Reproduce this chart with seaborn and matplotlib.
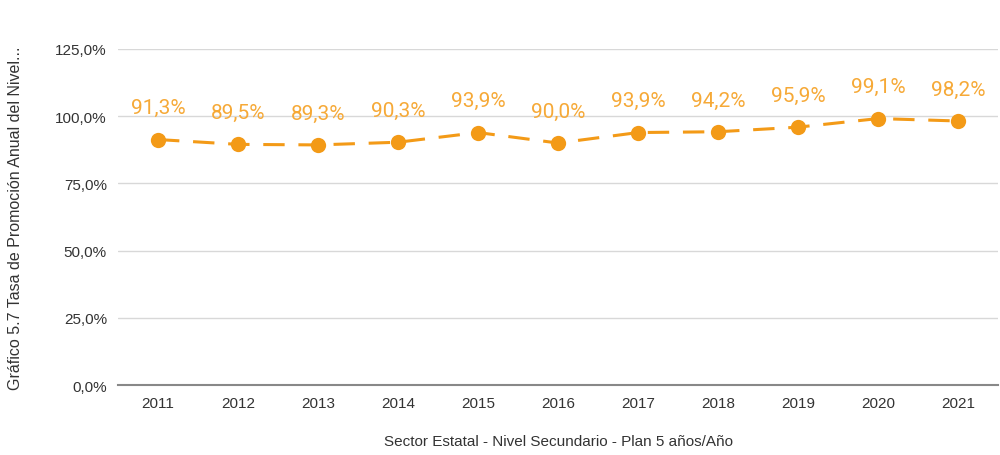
import matplotlib
matplotlib.use("Agg")
import matplotlib.pyplot as plt
import numpy as np
import pandas as pd
import seaborn as sns

# data
years = [2011, 2012, 2013, 2014, 2015, 2016, 2017, 2018, 2019, 2020, 2021]
tasa = [91.3, 89.5, 89.3, 90.3, 93.9, 90.0, 93.9, 94.2, 95.9, 99.1, 98.2]
yticks = [0, 25, 50, 75, 100, 125]

df = pd.DataFrame({"Año": years, "Tasa": tasa})

sns.set_style("white")
plt.rcParams['font.family'] = ['Roboto', 'DejaVu Sans']

orange = "#F39A17"

fig = plt.figure(figsize=(10, 4.56), dpi=100)
ax = fig.add_axes([0.118, 0.1535, 0.88, 0.737])

sns.lineplot(data=df, x="Año", y="Tasa", ax=ax, color=orange, linewidth=2.2,
             marker="o", markersize=11, markeredgewidth=0, zorder=3)
ax.lines[0].set_dashes([7, 4.5])
ax.lines[0].set_clip_on(False)

for x, y in zip(years, tasa):
    ax.annotate(f"{y:.1f}%".replace(".", ","), (x, y), xytext=(0, 16),
                textcoords="offset points", ha="center", va="bottom",
                color="#F6A937", fontsize=15)

ax.set_xlim(2010.5, 2021.5)
ax.set_ylim(0, 125)
ax.set_xticks(years)
ax.set_xticklabels([str(y) for y in years], fontsize=11, color="#333333",
                   family="Liberation Sans")
ax.set_yticks(yticks)
ax.set_yticklabels([f"{t:.1f}%".replace(".", ",") for t in yticks], fontsize=11,
                   color="#333333", family="Liberation Sans")
ax.tick_params(axis="both", length=0, pad=8)
ax.grid(axis="y", color="#d8d8d8", linewidth=1)
for s in ["top", "right", "left"]:
    ax.spines[s].set_visible(False)
ax.spines["bottom"].set_color("#888888")
ax.spines["bottom"].set_linewidth(1.5)

ax.set_xlabel("Sector Estatal - Nivel Secundario - Plan 5 años/Año", fontsize=11,
              color="#333333", family="Liberation Sans", labelpad=17)
ax.set_ylabel("Gráfico 5.7 Tasa de Promoción Anual del Nivel...", fontsize=11.5,
              color="#333333", family="Liberation Sans")
ax.yaxis.set_label_coords(-0.108, 0.5)

fig.savefig("out.png", dpi=100)
